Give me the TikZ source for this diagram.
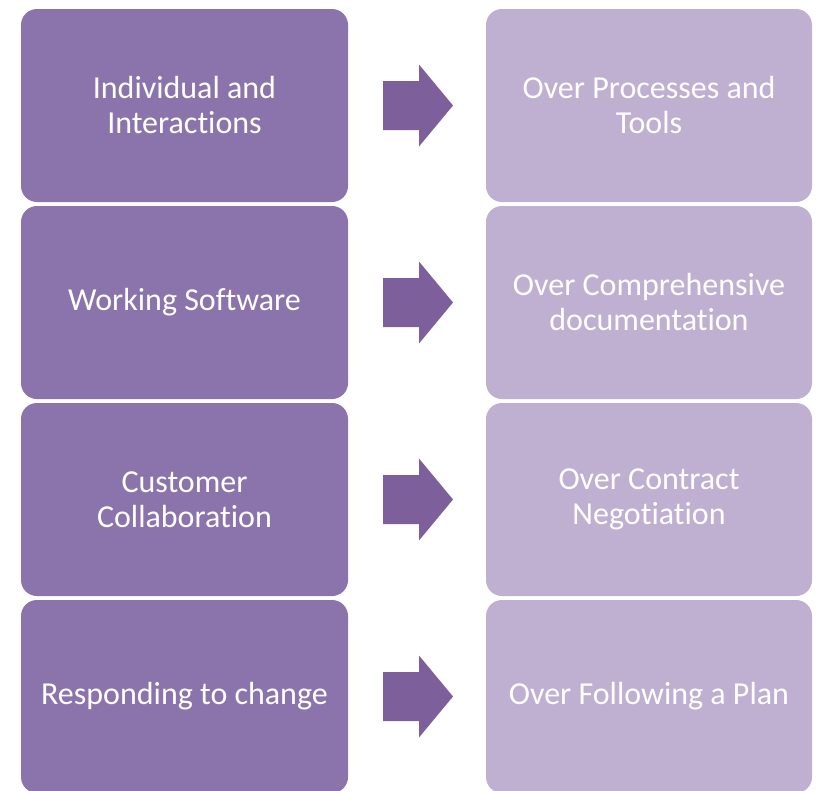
\documentclass[tikz,border=0pt]{standalone}
\usepackage{fontspec}
\setmainfont{Carlito}[Ligatures=NoCommon]
\usetikzlibrary{calc}
\definecolor{leftc}{HTML}{8B74AB}
\definecolor{rightc}{HTML}{BFB0D1}
\definecolor{arrc}{HTML}{7D609B}
\begin{document}
\begin{tikzpicture}[x=1pt,y=-1pt,
  lbox/.style={fill=leftc,draw=none,rounded corners=16pt,minimum width=327pt,minimum height=193pt,
    text=white,align=center,font=\fontsize{32}{35}\selectfont},
  rbox/.style={lbox,fill=rightc,minimum width=326pt},
  bigarrow/.style={fill=arrc,draw=none}]
\useasboundingbox (0,0) rectangle (816,790);
\fill[white] (0,0) rectangle (816,790);
\node[lbox] (l1) at (184.5,105.5) {Individual and\\Interactions};
\node[lbox] (l2) at (184.5,302.5) {Working Software};
\node[lbox] (l3) at (184.5,499.5) {Customer\\Collaboration};
\node[lbox] (l4) at (184.5,696.5) {Responding to change};
\node[rbox] (r1) at (649,105.5) {Over Processes and\\Tools};
\node[rbox] (r2) at (649,302.5) {Over Comprehensive\\documentation};
\node[rbox] (r3) at (649,499.5) {Over Contract\\Negotiation};
\node[rbox] (r4) at (649,696.5) {Over Following a Plan};
\foreach \i in {1,2,3,4}{
  \coordinate (m\i) at ($(l\i.east)!0.5!(r\i.west)$);
  \fill[bigarrow] ($(m\i)+(-34,-24.5)$) -- ($(m\i)+(2,-24.5)$) -- ($(m\i)+(2,-41)$)
    -- ($(m\i)+(36,0)$) -- ($(m\i)+(2,41)$) -- ($(m\i)+(2,24.5)$) -- ($(m\i)+(-34,24.5)$) -- cycle;
}
\end{tikzpicture}
\end{document}
